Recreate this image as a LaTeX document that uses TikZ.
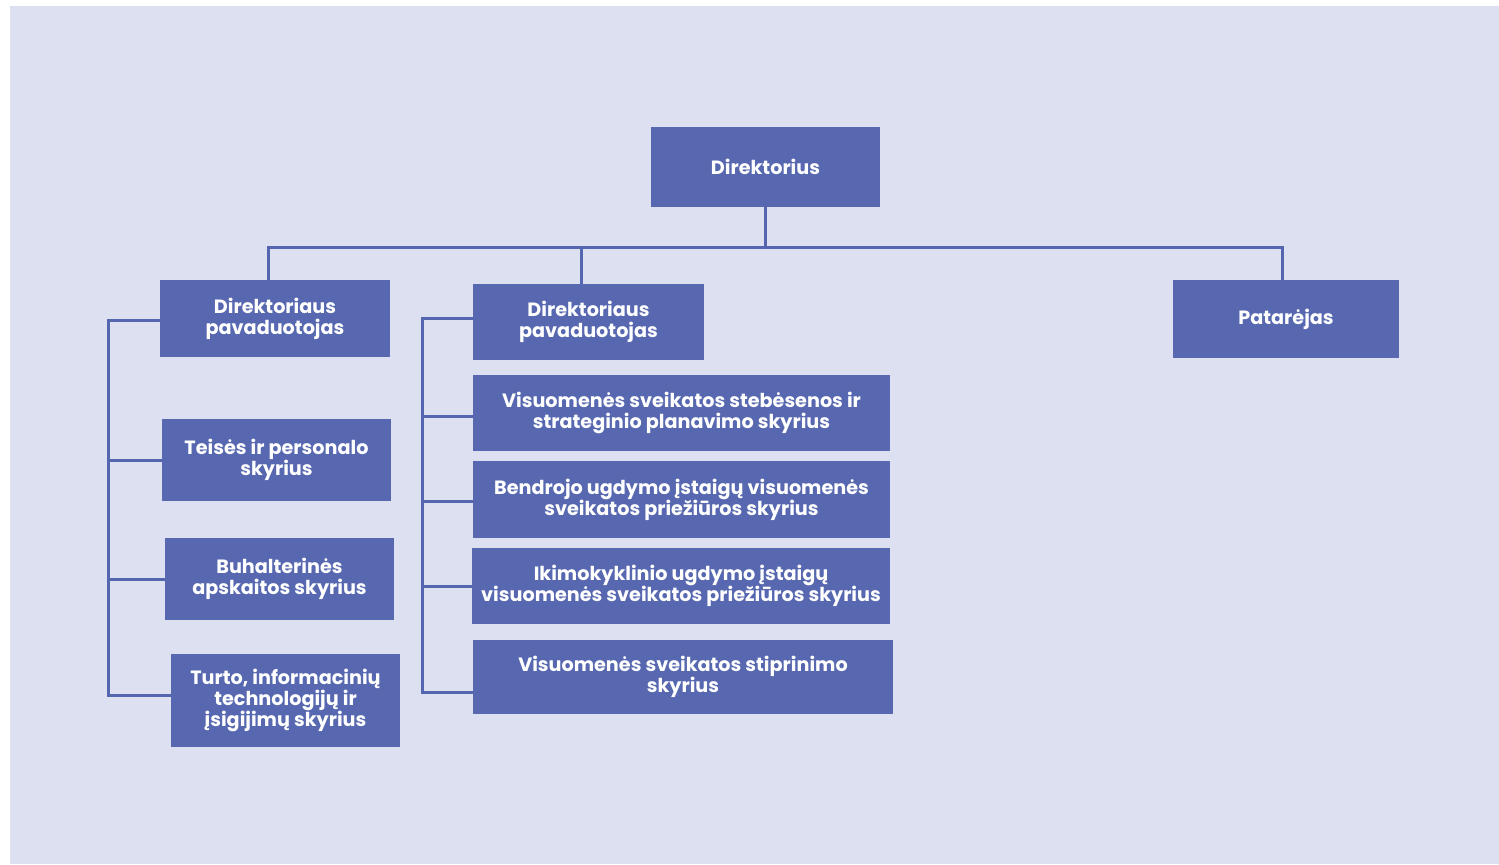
\documentclass[tikz,border=0pt]{standalone}
\usepackage{fontspec}
\setmainfont{Poppins}
\usetikzlibrary{positioning}
\definecolor{bgLav}{HTML}{DDE0F0}
\definecolor{boxBlue}{HTML}{5768B0}
\definecolor{lineBlue}{HTML}{5566B0}
\tikzset{orgbox/.style=
  {fill=boxBlue, draw=none, text=white, align=center, inner sep=0pt,
   font=\fontsize{9.6}{10.5}\selectfont\bfseries}
}
\tikzset{orgline/.style={draw=lineBlue, line width=1.5pt}}

\begin{document}
\begin{tikzpicture}[x=0.5pt,y=-0.5pt]
\useasboundingbox (0,0) rectangle (1499,864);
\fill[bgLav] (10,6) rectangle (1499,864);
% top level
\node[orgbox,minimum width=114.5pt,minimum height=40pt] (dir) at (765.5,167) {Direktorius};
\node[orgbox,minimum width=115pt,minimum height=38.5pt] (pav1) at (275,318.5) {Direktoriaus\\pavaduotojas};
\node[orgbox,minimum width=115.5pt,minimum height=38pt] (pav2) at (588.5,322) {Direktoriaus\\pavaduotojas};
\node[orgbox,minimum width=113pt,minimum height=39pt] (pat) at (1286,319) {Patarėjas};
% left column
\node[orgbox,minimum width=114.5pt,minimum height=41pt] (teis) at (276.5,460) {Teisės ir personalo\\skyrius};
\node[orgbox,minimum width=114.5pt,minimum height=41pt] (buh) at (279.5,579) {Buhalterinės\\apskaitos skyrius};
\node[orgbox,minimum width=114.5pt,minimum height=46.5pt] (turt) at (285.5,700.5) {Turto, informacinių\\technologijų ir\\įsigijimų skyrius};
% middle column
\node[orgbox,minimum width=208.5pt,minimum height=38pt] (steb) at (681.5,413) {Visuomenės sveikatos stebėsenos ir\\strateginio planavimo skyrius};
\node[orgbox,minimum width=208.5pt,minimum height=38.5pt] (bendr) at (681.5,499.5) {Bendrojo ugdymo įstaigų visuomenės\\sveikatos priežiūros skyrius};
\node[orgbox,minimum width=209pt,minimum height=38pt] (ikim) at (681,586) {Ikimokyklinio ugdymo įstaigų\\visuomenės sveikatos priežiūros skyrius};
\node[orgbox,minimum width=210pt,minimum height=37pt] (stipr) at (683,677) {Visuomenės sveikatos stiprinimo\\skyrius};
% bar under director
\coordinate (barL) at (268,247);
\coordinate (barM) at (581,247);
\coordinate (barR) at (1282,247);
\draw[orgline] (dir.south) -- (dir.south |- barL);
\draw[orgline] (barL |- pav1.north) -- (barL) -- (barR) -- (barR |- pat.north);
\draw[orgline] (barM) -- (barM |- pav2.north);
% left bracket
\coordinate (lt) at (108,320);
\coordinate (lb) at (108,695);
\draw[orgline] (pav1.west |- lt) -- (lt) -- (lb) -- (turt.west |- lb);
\draw[orgline] (teis.west) -- (teis.west -| lt);
\draw[orgline] (buh.west) -- (buh.west -| lt);
% middle bracket
\coordinate (mt) at (422,318);
\coordinate (mb) at (422,692);
\draw[orgline] (pav2.west |- mt) -- (mt) -- (mb) -- (stipr.west |- mb);
\draw[orgline] (steb.west |- 0,416) -- (422,416);
\draw[orgline] (bendr.west |- 0,501) -- (422,501);
\draw[orgline] (ikim.west |- 0,586) -- (422,586);
\end{tikzpicture}
\end{document}
